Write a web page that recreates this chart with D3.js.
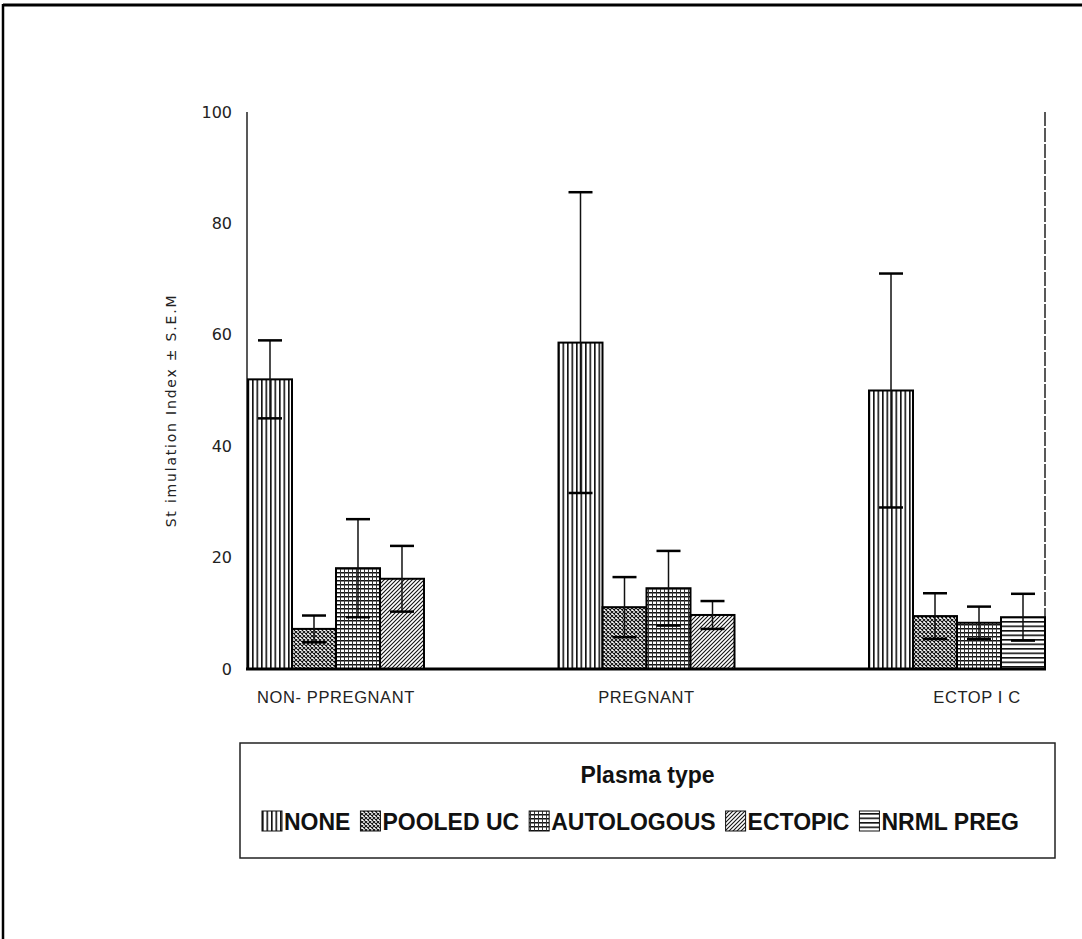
<!DOCTYPE html>
<html><head><meta charset="utf-8">
<script src="https://cdn.jsdelivr.net/npm/d3@7"></script>
<style>html,body{margin:0;padding:0;background:#fff;}svg{display:block;}</style>
</head><body>
<svg id="c" width="1082" height="939"></svg>
<script>
const groups = ["NON- PPREGNANT", "PREGNANT", "ECTOP I C"];
const seriesNames = ["NONE", "POOLED UC", "AUTOLOGOUS", "ECTOPIC", "NRML PREG"];
const noneVals = [52, 58.6, 50];
const noneErr = [7, 27, 21];
const pooledVals = [7.2, 11.1, 9.5];
const pooledErr = [2.4, 5.4, 4.1];
const autoVals = [18.1, 14.5, 8.3];
const autoErr = [8.8, 6.7, 2.9];
const ectopicVals = [16.2, 9.7, null];
const ectopicErr = [5.9, 2.5, null];
const nrmlVals = [null, null, 9.3];
const nrmlErr = [null, null, 4.2];
const yTicks = [0, 20, 40, 60, 80, 100];
const yTitle = "St imulation Index ± S.E.M";
const legendTitle = "Plasma type";

const seriesVals = [noneVals, pooledVals, autoVals, ectopicVals, nrmlVals];
const seriesErr = [noneErr, pooledErr, autoErr, ectopicErr, nrmlErr];
const patIds = ["pNone", "pPooled", "pAuto", "pEct", "pNrml"];

const svg = d3.select("#c");
const defs = svg.append("defs");
function pat(id, w, h, draw) {
  const p = defs.append("pattern").attr("id", id).attr("patternUnits", "userSpaceOnUse")
    .attr("width", w).attr("height", h);
  p.append("rect").attr("width", w).attr("height", h).attr("fill", "#fff");
  draw(p);
}
pat("pNone", 4.5, 10, p => p.append("rect").attr("x", 0).attr("y", 0).attr("width", 1.6).attr("height", 10).attr("fill", "#111"));
pat("pPooled", 4, 4, p => {
  p.append("path").attr("d", "M0,0L4,4M4,0L0,4").attr("stroke", "#111").attr("stroke-width", 1.1);
});
pat("pAuto", 4, 4, p => {
  p.append("rect").attr("x", 0).attr("y", 0).attr("width", 4).attr("height", 1.5).attr("fill", "#111");
  p.append("rect").attr("x", 0).attr("y", 0).attr("width", 1).attr("height", 4).attr("fill", "#333");
});
pat("pEct", 4, 4, p => {
  p.append("path").attr("d", "M-1,1L1,-1M0,4L4,0M3,5L5,3").attr("stroke", "#111").attr("stroke-width", 1.1);
});
pat("pNrml", 10, 4.5, p => p.append("rect").attr("x", 0).attr("y", 0).attr("width", 10).attr("height", 1.6).attr("fill", "#111"));

// frame
svg.append("line").attr("x1", 3).attr("x2", 1082).attr("y1", 5).attr("y2", 5).attr("stroke", "#000").attr("stroke-width", 3);
svg.append("line").attr("x1", 3).attr("x2", 3).attr("y1", 4).attr("y2", 939).attr("stroke", "#000").attr("stroke-width", 2.5);

const x0 = 248, x1 = 1045, yTop = 112, yBot = 669;
const y = d3.scaleLinear().domain([0, 100]).range([yBot, yTop]);
const xg = d3.scaleBand().domain(groups).range([x0, x1]).paddingInner(0.4332).paddingOuter(0);

// axes lines
svg.append("line").attr("x1", 247).attr("x2", 247).attr("y1", yTop).attr("y2", yBot).attr("stroke", "#222").attr("stroke-width", 1.5);
svg.append("line").attr("x1", x1).attr("x2", x1).attr("y1", yTop).attr("y2", yBot).attr("stroke", "#222").attr("stroke-width", 1.5).attr("stroke-dasharray", "14,2");

// y labels via axis
const yAxis = d3.axisLeft(y).tickValues(yTicks).tickSize(0).tickPadding(15);
const ya = svg.append("g").attr("transform", "translate(247,0)").call(yAxis);
ya.select(".domain").remove();
ya.selectAll("text").attr("font-family", "DejaVu Sans").attr("font-size", 16).attr("fill", "#222");

svg.append("text").attr("transform", `translate(176,${(yTop + yBot) / 2 + 20}) rotate(-90)`)
  .attr("text-anchor", "middle").attr("font-family", "DejaVu Sans").attr("font-size", 14)
  .attr("letter-spacing", 1.8).attr("fill", "#222").text(yTitle);

// bars
groups.forEach((g, gi) => {
  const present = seriesNames.map((s, si) => si).filter(si => seriesVals[si][gi] != null);
  const xi = d3.scaleBand().domain(present).range([xg(g), xg(g) + xg.bandwidth()]);
  present.forEach(si => {
    const v = seriesVals[si][gi], e = seriesErr[si][gi];
    const bx = xi(si), bw = xi.bandwidth(), cx = bx + bw / 2;
    svg.append("rect").attr("x", bx).attr("y", y(v)).attr("width", bw).attr("height", y(0) - y(v))
      .attr("fill", `url(#${patIds[si]})`).attr("stroke", "#000").attr("stroke-width", 2);
    svg.append("line").attr("x1", cx).attr("x2", cx).attr("y1", y(v + e)).attr("y2", y(v - e)).attr("stroke", "#111").attr("stroke-width", 1.5);
    [v + e, v - e].forEach(t => svg.append("line").attr("x1", cx - 12).attr("x2", cx + 12).attr("y1", y(t)).attr("y2", y(t)).attr("stroke", "#000").attr("stroke-width", 2.5));
  });
  svg.append("text").attr("x", xg(g) + xg.bandwidth() / 2 + (gi === 2 ? 20 : 0)).attr("y", 703).attr("text-anchor", "middle")
    .attr("font-family", "Liberation Sans").attr("font-size", 16.5).attr("letter-spacing", 0.6).attr("fill", "#222").text(g);
});
svg.append("line").attr("x1", 246).attr("x2", x1 + 1).attr("y1", yBot).attr("y2", yBot).attr("stroke", "#000").attr("stroke-width", 3);

// legend
const L = {x: 240, y: 743, w: 815, h: 115};
svg.append("rect").attr("x", L.x).attr("y", L.y).attr("width", L.w).attr("height", L.h).attr("fill", "none").attr("stroke", "#222").attr("stroke-width", 1.5);
svg.append("text").attr("x", L.x + L.w / 2).attr("y", 783).attr("text-anchor", "middle").attr("font-family", "Liberation Sans")
  .attr("font-weight", "bold").attr("font-size", 23).attr("fill", "#111").text(legendTitle);
const row = svg.append("g");
let cur = 0;
seriesNames.forEach((s, si) => {
  row.append("rect").attr("x", cur).attr("y", -11).attr("width", 20).attr("height", 20)
    .attr("fill", `url(#${patIds[si]})`).attr("stroke", "#111").attr("stroke-width", 1);
  const t = row.append("text").attr("x", cur + 22).attr("y", 8).attr("font-family", "Liberation Sans")
    .attr("font-weight", "bold").attr("font-size", 23).attr("fill", "#111").text(s);
  cur += 22 + t.node().getComputedTextLength() + 10;
});
cur -= 10;
row.attr("transform", `translate(${L.x + L.w / 2 - cur / 2 - 7},822)`);
</script>
</body></html>
